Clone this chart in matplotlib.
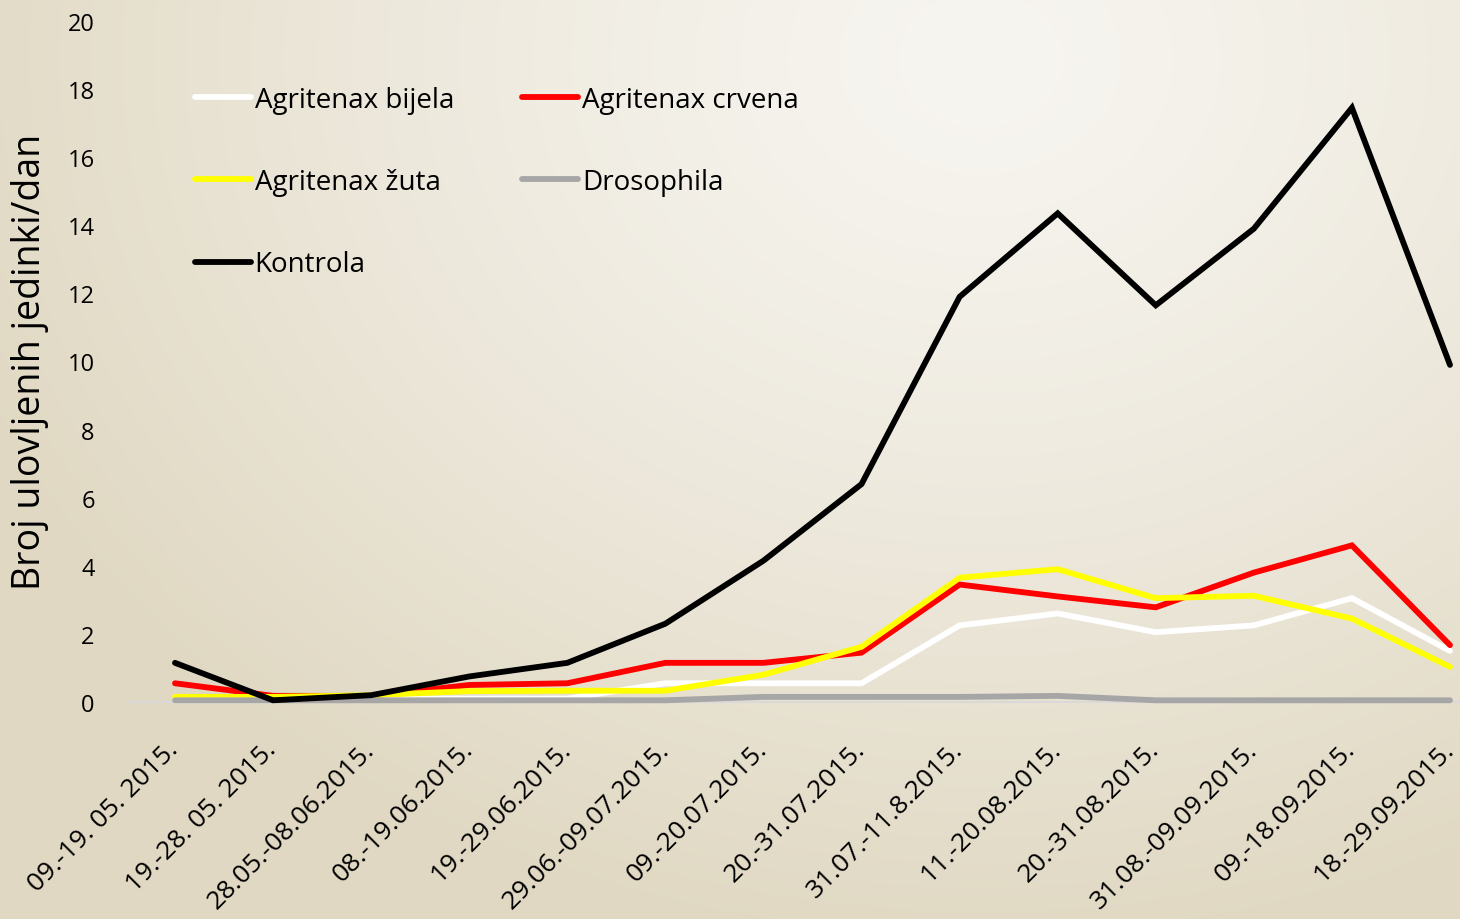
import numpy as np
import matplotlib
matplotlib.use("Agg")
import matplotlib.pyplot as plt
from matplotlib.colors import to_rgb
import matplotlib.transforms as mtransforms

categories = ["09.-19. 05. 2015.", "19.-28. 05. 2015.", "28.05.-08.06.2015.",
              "08.-19.06.2015.", "19.-29.06.2015.", "29.06.-09.07.2015.",
              "09.-20.07.2015.", "20.-31.07.2015.", "31.07.-11.8.2015.",
              "11.-20.08.2015.", "20.-31.08.2015.", "31.08.-09.09.2015.",
              "09.-18.09.2015.", "18.-29.09.2015."]

bijela = [0.05, 0.05, 0.1, 0.1, 0.1, 0.55, 0.55, 0.55, 2.25, 2.6, 2.05, 2.25, 3.05, 1.5]
crvena = [0.55, 0.18, 0.18, 0.5, 0.55, 1.15, 1.15, 1.45, 3.45, 3.1, 2.78, 3.8, 4.6, 1.67]
zuta = [0.15, 0.15, 0.2, 0.32, 0.33, 0.33, 0.8, 1.62, 3.65, 3.9, 3.05, 3.12, 2.45, 1.03]
drosophila = [0.05, 0.05, 0.05, 0.05, 0.05, 0.05, 0.15, 0.15, 0.15, 0.18, 0.05, 0.05, 0.05, 0.05]
kontrola = [1.15, 0.05, 0.2, 0.75, 1.15, 2.3, 4.15, 6.4, 11.9, 14.35, 11.65, 13.9, 17.45, 9.9]

series = [("Agritenax bijela", bijela, "#ffffff"),
          ("Agritenax crvena", crvena, "#ff0000"),
          ("Agritenax žuta", zuta, "#ffff00"),
          ("Drosophila", drosophila, "#a6a6a6"),
          ("Kontrola", kontrola, "#000000")]

W, H = 1460, 920
fig = plt.figure(figsize=(W / 100, H / 100), dpi=100)

# background gradient
bg = fig.add_axes([0, 0, 1, 1], zorder=-10)
yy, xx = np.mgrid[0:H, 0:W]
d = np.sqrt(((xx - 980) / 1100.0) ** 2 + ((yy - 60) / 900.0) ** 2)
t = np.clip(d, 0, 1) ** 1.3
light = np.array(to_rgb("#f7f5f0"))
dark = np.array(to_rgb("#e0d8c2"))
img = light[None, None, :] * (1 - t[..., None]) + dark[None, None, :] * t[..., None]
bg.imshow(img, aspect="auto", extent=[0, 1, 0, 1])
bg.axis("off")

left_px, right_px = 128, 1497
x0_px, x13_px = 175, 1450
bottom_px, top_px = 703, 22
ax = fig.add_axes([left_px / W, (H - bottom_px) / H, (right_px - left_px) / W, (bottom_px - top_px) / H])
ax.patch.set_alpha(0)
x = np.arange(len(categories))
step = (x13_px - x0_px) / 13
ax.set_xlim(-(x0_px - left_px) / step, 13 + (right_px - x13_px) / step)
ax.set_ylim(0, 20)

lines = {}
for name, vals, col in series:
    lines[name], = ax.plot(x, vals, color=col, lw=4.2, label=name, solid_capstyle="round",
                           solid_joinstyle="miter", clip_on=False)

for s in ["top", "right", "left"]:
    ax.spines[s].set_visible(False)
ax.spines["bottom"].set_color("#d9d9d9")
ax.spines["bottom"].set_linewidth(1.5)
ax.spines["bottom"].set_zorder(0.5)

ax.set_yticks(np.arange(0, 21, 2))
ax.tick_params(axis="y", length=0, pad=24)
ax.tick_params(axis="x", length=0, pad=25)
ax.set_xticks(x)
ax.set_xticklabels(categories, rotation=45, ha="right", rotation_mode="anchor",
                   fontsize=19, family=["Open Sans", "DejaVu Sans"])
offset = mtransforms.ScaledTranslation(-9 / 100, 0, fig.dpi_scale_trans)
for lab in ax.get_xticklabels():
    lab.set_transform(lab.get_transform() + offset)
for lab in ax.get_yticklabels():
    lab.set_family(["Open Sans", "DejaVu Sans"])
    lab.set_fontsize(17)

fig.text(30 / W, 1 - 362 / H, "Broj ulovljenih jedinki/dan", rotation=90,
         ha="center", va="center", fontsize=27, family=["Open Sans", "DejaVu Sans"])

order = ["Agritenax bijela", "Agritenax žuta", "Kontrola", "Agritenax crvena", "Drosophila"]
leg = ax.legend([lines[n] for n in order], order,
                loc="upper left", bbox_to_anchor=((170 - left_px) / (right_px - left_px), (bottom_px - 62) / (bottom_px - top_px)),
                ncol=2, frameon=False, handlelength=2.0, handletextpad=0.15,
                columnspacing=2.45, labelspacing=1.95, borderpad=0.4,
                prop={"family": ["Open Sans", "DejaVu Sans"], "size": 20})

fig.savefig("out.png", dpi=100)
